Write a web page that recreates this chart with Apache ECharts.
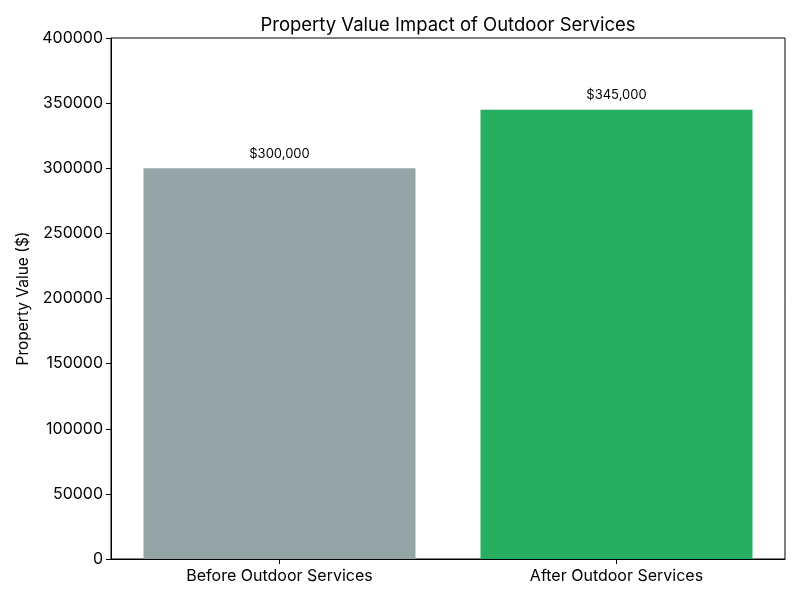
<!DOCTYPE html>
<html><head><meta charset="utf-8">
<script src="https://cdn.jsdelivr.net/npm/echarts@6/dist/echarts.min.js"></script>
<style>html,body{margin:0;padding:0;background:#fff}#c{width:800px;height:600px}</style>
</head><body><div id="c"></div>
<script>
const categories = ["Before Outdoor Services", "After Outdoor Services"];
const values = [300000, 345000];
const barColors = ["#95a5a6", "#27ae60"];
const yTicks = [0, 50000, 100000, 150000, 200000, 250000, 300000, 350000, 400000];

const FONT = "Inter";
const chart = echarts.init(document.getElementById('c'), null, {renderer: 'canvas'});
chart.setOption({
  animation: false,
  backgroundColor: '#fff',
  title: {
    text: "Property Value Impact of Outdoor Services",
    left: 443, top: 11, textAlign: 'center',
    textStyle: {fontFamily: FONT, fontSize: 18.5, fontWeight: 'normal', color: '#000'}
  },
  grid: {left: 111, right: 15, top: 38, bottom: 41, show: true, borderColor: '#000', borderWidth: 1, backgroundColor: 'transparent'},
  xAxis: {
    type: 'category', data: categories,
    axisLine: {show: true, lineStyle: {color: '#000', width: 1}},
    axisTick: {show: true, alignWithLabel: true, length: 5, lineStyle: {color: '#000'}},
    axisLabel: {fontFamily: FONT, fontSize: 16, color: '#000', margin: 9},
    splitLine: {show: false}
  },
  yAxis: {
    type: 'value', min: yTicks[0], max: yTicks[yTicks.length - 1], interval: yTicks[1] - yTicks[0],
    name: "Property Value ($)", nameLocation: 'middle', nameGap: 77, nameRotate: 90,
    nameTextStyle: {fontFamily: FONT, fontSize: 15.5, color: '#000'},
    axisLine: {show: true, lineStyle: {color: '#000', width: 1}},
    axisTick: {show: true, length: 5, lineStyle: {color: '#000'}},
    axisLabel: {fontFamily: FONT, fontSize: 16, color: '#000', margin: 8, formatter: v => String(v)},
    splitLine: {show: false}
  },
  series: [{
    type: 'bar', barWidth: 272,
    data: values.map((v, i) => ({value: v, itemStyle: {color: barColors[i], borderWidth: 0}})),
    label: {
      show: true, position: 'top', distance: 8,
      fontFamily: FONT, fontSize: 13, color: '#000',
      formatter: p => '$' + p.value.toLocaleString('en-US')
    }
  }]
});
</script></body></html>
